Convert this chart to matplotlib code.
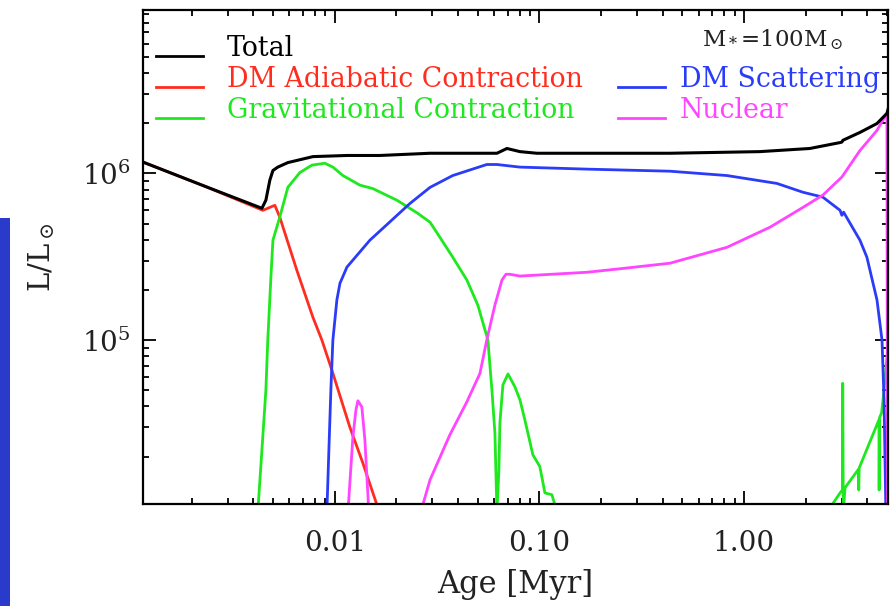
import numpy as np
import matplotlib
matplotlib.use("Agg")
import matplotlib.pyplot as plt
from matplotlib.ticker import LogLocator, NullFormatter, FixedLocator, FixedFormatter
from matplotlib.patches import Rectangle

plt.rcParams['font.family'] = ['DejaVu Serif']
plt.rcParams['mathtext.fontset'] = 'dejavuserif'

# Luminosity contributions vs. age (Myr, L/Lsun)
total_age = [0.00115, 0.00224, 0.00440, 0.00460, 0.00481, 0.00498, 0.00526, 0.00589,
             0.00781, 0.01146, 0.01660, 0.0292, 0.0620, 0.0694, 0.0803, 0.0972,
             0.435, 1.197, 2.10, 2.95, 3.01, 3.05, 3.69, 4.47, 5.00, 5.12]
total_L = [1.17e6, 8.5e5, 6.17e5, 6.9e5, 9.1e5, 1.04e6, 1.09e6, 1.16e6,
           1.26e6, 1.28e6, 1.28e6, 1.32e6, 1.32e6, 1.41e6, 1.35e6, 1.32e6,
           1.32e6, 1.35e6, 1.41e6, 1.53e6, 1.54e6, 1.58e6, 1.76e6, 1.99e6, 2.29e6, 2.55e6]

adiab_age = [0.00115, 0.00224, 0.00445, 0.00481, 0.00509, 0.00538, 0.00652, 0.00781,
             0.00864, 0.00967, 0.01184, 0.01370, 0.01604, 0.01641]
adiab_L = [1.17e6, 8.5e5, 6.0e5, 6.25e5, 6.43e5, 5.46e5, 2.62e5, 1.37e5,
           1.0e5, 6.6e4, 3.0e4, 1.83e4, 1.03e4, 9.4e3]

grav_age_early = [0.00420, 0.00440, 0.00460, 0.00470, 0.00486, 0.00498, 0.00538, 0.00589,
                  0.00674, 0.00772, 0.00893, 0.00978, 0.01095, 0.01325, 0.01534, 0.0201,
                  0.0252, 0.0292, 0.0326, 0.0377, 0.0442, 0.0500, 0.0560, 0.0586,
                  0.0606, 0.0620, 0.0634, 0.0641, 0.0663, 0.0702, 0.0759, 0.0803,
                  0.0849, 0.0929, 0.1005, 0.1064, 0.1151, 0.1219]
grav_L_early = [9.3e3, 2.19e4, 5.0e4, 1.0e5, 2.29e5, 3.97e5, 5.46e5, 8.24e5,
                1.01e6, 1.12e6, 1.15e6, 1.09e6, 9.7e5, 8.5e5, 8.1e5, 6.9e5,
                5.8e5, 5.09e5, 4.14e5, 3.14e5, 2.29e5, 1.62e5, 1.0e5, 5.0e4,
                2.77e4, 9.3e3, 1.67e4, 3.18e4, 5.38e4, 6.26e4, 5.24e4, 4.38e4,
                3.32e4, 2.05e4, 1.74e4, 1.21e4, 1.18e4, 9.3e3]

grav_age_late = [2.66, 2.73, 2.95, 3.03, 3.04, 3.06, 3.12, 3.62, 3.64, 3.66,
                 4.57, 4.58, 4.60, 4.71, 4.84, 5.12]
grav_L_late = [9.3e3, 1.05e4, 1.21e4, 1.26e4, 5.5e4, 9.3e3, 1.30e4, 1.67e4, 1.26e4, 1.71e4,
               3.32e4, 1.26e4, 3.42e4, 3.66e4, 5.0e4, 1.1e5]

scat_age = [0.00914, 0.00935, 0.00956, 0.00978, 0.01023, 0.01059, 0.01146, 0.01483,
            0.0233, 0.0292, 0.0377, 0.0553, 0.0620, 0.0803, 0.1708, 0.435,
            0.826, 1.449, 1.944, 2.43, 2.95, 3.01, 3.07, 3.69, 3.99, 4.47,
            4.73, 4.84, 4.94]
scat_L = [9.3e3, 2.19e4, 5.0e4, 1.0e5, 1.74e5, 2.19e5, 2.74e5, 3.97e5,
          6.6e5, 8.24e5, 9.7e5, 1.13e6, 1.13e6, 1.09e6, 1.06e6, 1.03e6,
          9.7e5, 8.7e5, 7.7e5, 7.2e5, 6.0e5, 5.6e5, 5.85e5, 3.97e5, 3.14e5, 1.74e5,
          1.0e5, 4.38e4, 9.3e3]

nuc_age_bump = [0.01159, 0.01225, 0.01268, 0.01296, 0.01355, 0.01402, 0.01466]
nuc_L_bump = [9.3e3, 2.62e4, 3.81e4, 4.32e4, 3.97e4, 2.52e4, 9.3e3]

nuc_age = [0.0263, 0.0292, 0.0365, 0.0442, 0.0512, 0.0553, 0.0606, 0.0656,
           0.0686, 0.0718, 0.0803, 0.1708, 0.250, 0.435, 0.826, 1.340, 1.944,
           2.43, 3.01, 3.69, 4.47, 5.00, 5.03]
nuc_L = [9.3e3, 1.45e4, 2.7e4, 4.26e4, 6.3e4, 1.0e5, 1.62e5, 2.29e5,
         2.48e5, 2.48e5, 2.42e5, 2.55e5, 2.68e5, 2.89e5, 3.6e5, 4.75e5, 6.25e5,
         7.4e5, 9.5e5, 1.37e6, 1.81e6, 2.29e6, 9.3e3]

c_total = 'black'
c_adiab = '#ff2d1f'
c_grav = '#1ee81e'
c_scat = '#2a3cf8'
c_nuc = '#ff45ff'

fig = plt.figure(figsize=(8.92, 6.06), dpi=100)
ax = fig.add_axes([0.160, 0.1683, 0.8359, 0.8152])

lw = 2.0
ax.plot(adiab_age, adiab_L, color=c_adiab, lw=lw)
ax.plot(grav_age_early, grav_L_early, color=c_grav, lw=lw)
ax.plot(grav_age_late, grav_L_late, color=c_grav, lw=lw)
ax.plot(scat_age, scat_L, color=c_scat, lw=lw)
ax.plot(nuc_age_bump, nuc_L_bump, color=c_nuc, lw=lw)
ax.plot(nuc_age, nuc_L, color=c_nuc, lw=lw)
ax.plot(total_age, total_L, color=c_total, lw=2.2)

ax.set_xscale('log')
ax.set_yscale('log')
ax.set_xlim(0.00115, 5.08)
ax.set_ylim(1.038e4, 9.55e6)

ax.xaxis.set_major_locator(FixedLocator([0.01, 0.1, 1.0]))
ax.xaxis.set_major_formatter(FixedFormatter(['0.01', '0.10', '1.00']))
ax.xaxis.set_minor_locator(LogLocator(base=10, subs=np.arange(2, 10), numticks=20))
ax.xaxis.set_minor_formatter(NullFormatter())
ax.yaxis.set_major_locator(LogLocator(base=10, numticks=10))
ax.yaxis.set_minor_locator(LogLocator(base=10, subs=np.arange(2, 10), numticks=20))
ax.yaxis.set_minor_formatter(NullFormatter())

ax.tick_params(which='both', direction='in', top=True, right=True, width=1.3, color='black')
ax.tick_params(which='major', length=9.5)
ax.tick_params(which='minor', length=4.5)
ax.tick_params(axis='x', which='major', labelsize=20, pad=19, labelcolor='#222222')
ax.tick_params(axis='y', which='major', labelsize=20, pad=9, labelcolor='#222222')
for s in ax.spines.values():
    s.set_linewidth(1.6)

ax.set_xlabel('Age [Myr]', fontsize=22, labelpad=8, color='#222222')
ax.set_ylabel(r'L/L$_\odot$', fontsize=21, labelpad=18, color='#222222')

# legend drawn by hand: handle line on the baseline, text coloured like the curve
entries = [
    ('Total', c_total, 0.0181, 0.1133, 0.9069),
    ('DM Adiabatic Contraction', c_adiab, 0.0181, 0.1133, 0.8441),
    ('Gravitational Contraction', c_grav, 0.0181, 0.1133, 0.7814),
    ('DM Scattering', c_scat, 0.637, 0.7206, 0.8441),
    ('Nuclear', c_nuc, 0.637, 0.7206, 0.7814),
]
for label, col, hx, tx, ty in entries:
    ax.plot([hx, hx + 0.063], [ty, ty], color=col, lw=2.0, transform=ax.transAxes)
    ax.text(tx, ty, label, color=col, fontsize=19.3, transform=ax.transAxes,
            ha='left', va='baseline')

ax.text(0.940, 0.939, r'M$_*$=100M$_\odot$', fontsize=16.5, transform=ax.transAxes,
        ha='right', va='center', color='#222222')

# slide accent bar on the left edge
fig.patches.append(Rectangle((0, 0), 10 / 892, (606 - 218) / 606, transform=fig.transFigure,
                             facecolor='#2a3bcc', edgecolor='none'))

fig.savefig('out.png', dpi=100)
